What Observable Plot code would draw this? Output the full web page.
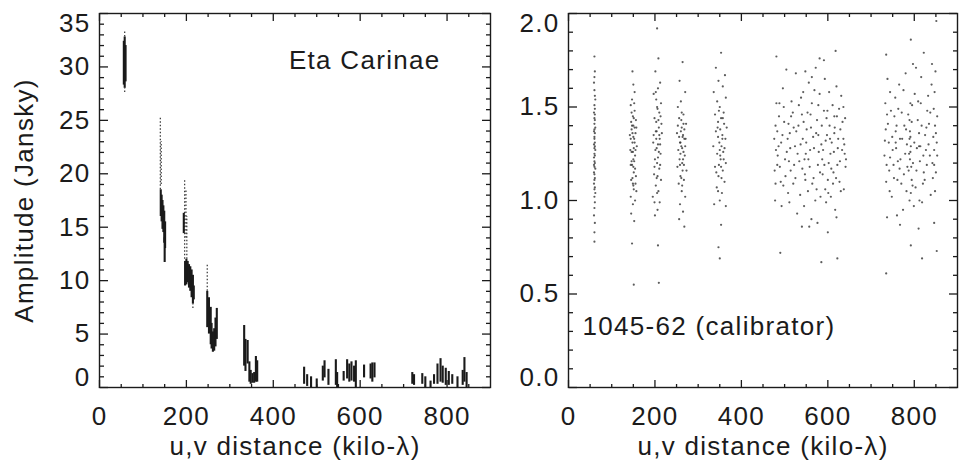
<!DOCTYPE html>
<html>
<head>
<meta charset="utf-8">
<script src="https://cdn.jsdelivr.net/npm/d3@7"></script>
<script src="https://cdn.jsdelivr.net/npm/@observablehq/plot@0.6"></script>
<style>
  html, body { margin: 0; padding: 0; background: #fff; }
  #wrap { display: flex; flex-direction: row; width: 959px; height: 463px; }
  #wrap svg { display: block; }
</style>
</head>
<body>
<div id="wrap"></div>
<script>
// ---------- data ----------
// Left panel (Eta Carinae): dense visibility streaks [u,v distance, amp low, amp high]
const etaStreaks = [
  [56,28.3,32.4],[58,28.0,32.8],[60,28.6,32.0],
  [141,16.0,18.5],[143,15.5,18.0],[145,14.8,17.5],[147,14.5,17.0],[149,13.5,16.5],[151,13.0,15.5],[150,11.7,14.0],
  [194,14.4,16.3],[197,9.5,11.8],[200,9.6,12.0],[203,9.8,11.8],[206,9.3,11.5],[209,9.0,11.3],[212,8.4,11.0],[215,7.8,10.5],[217,8.2,9.5],
  [248,5.6,9.0],[252,5.0,8.4],[256,4.0,7.5],[258,3.6,6.0],[261,3.3,5.2],[264,3.4,5.5],[267,3.8,6.5],[270,4.5,7.4],
  [333,2.0,5.8],[336,1.5,4.5],[341,2.2,4.4],[345,0.5,2.4],[348,0.3,1.6],[352,0.4,1.3],[356,0.4,1.4],[360,0.5,2.9],[363,0.5,2.5],
  [471,0.3,1.9],[478,0.1,1.2],[487,0.0,1.0],[500,0.0,0.8],[514,0.6,2.0],[518,0.9,2.5],[527,0.2,1.7],[544,0.2,2.6],[547,0.0,1.4],
  [562,0.6,1.5],[570,0.8,2.6],[575,0.5,2.2],[580,0.6,2.4],[586,0.5,2.0],[590,0.0,2.5],[609,0.9,2.1],[624,0.8,2.2],[628,0.5,2.3],[633,0.9,2.3],
  [720,0.3,1.4],[724,0.2,1.2],[743,0.3,1.3],[750,0.0,1.0],[762,0.0,0.6],[770,0.3,1.2],[778,0.3,2.2],[785,0.5,2.7],[790,0.4,2.0],
  [797,0.2,1.8],[804,0.2,1.5],[812,0.3,1.2],[824,0.0,1.0],[836,0.2,1.6],[840,0.5,2.8],[845,0.0,1.4]
];
// Left panel: sparse (speckled) parts of the streaks
const etaSparse = [
  [58,32.8,33.4],[58,27.6,28.0],[140,18.5,25.3],[142,19.0,23.0],[196,12.0,19.4],[199,14.0,18.5],[201,12.0,16.0],[248,9.0,11.6],[215,7.4,7.8]
];

// Right panel (1045-62 calibrator): individual visibilities [u,v distance, amplitude]
const calBandA = [[60,1.77],[61,1.69],[59,1.63],[60,1.59],[62,1.54],[60,1.51],[61,1.49],[59,1.47],[60,1.44],[61,1.43],[60,1.41],[62,1.39],[59,1.37],[61,1.36],[60,1.34],[60,1.33],[61,1.31],[59,1.30],[60,1.28],[62,1.27],[60,1.25],[61,1.24],[59,1.23],[60,1.21],[61,1.20],[60,1.18],[62,1.17],[59,1.15],[60,1.14],[61,1.12],[60,1.11],[59,1.09],[61,1.07],[60,1.06],[62,1.04],[60,1.02],[61,0.99],[60,0.96],[59,0.92],[61,0.88],[60,0.83],[60,0.78],[61,1.56],[60,1.66],[61,1.46],[60,1.38],[59,1.19],[61,1.29]];
const calBandB = [[148,1.69],[153,1.58],[144,1.51],[156,1.43],[150,1.62],[146,1.38],[152,1.33],[158,1.29],[143,1.27],[149,1.45],[154,1.24],[147,1.19],[151,1.15],[145,1.11],[155,1.36],[150,1.08],[157,1.05],[148,1.31],[152,1.21],[144,1.02],[153,1.48],[146,1.26],[150,1.40],[156,1.13],[149,0.98],[142,1.35],[154,1.17],[147,1.54],[151,1.28],[145,0.93],[155,1.09],[150,1.22],[148,1.12],[153,1.31],[146,1.47],[152,0.89],[144,1.19],[157,1.39],[149,1.26],[151,1.06],[147,0.77],[151,0.55],[150,1.34],[145,1.42],[154,1.00],
  [146,1.21],[150,1.18],[153,1.39],[148,1.36],[151,1.44],[155,1.27],[144,1.33],[149,1.09],[152,1.52],[147,1.40]];
const calBandC = [[205,1.92],[208,1.76],[201,1.69],[212,1.63],[197,1.57],[207,1.60],[214,1.52],[203,1.54],[210,1.47],[199,1.44],[206,1.49],[215,1.41],[202,1.37],[209,1.39],[196,1.31],[211,1.33],[204,1.28],[213,1.25],[200,1.22],[207,1.30],[210,1.17],[198,1.14],[205,1.20],[214,1.11],[202,1.08],[208,1.05],[195,1.02],[211,0.99],[204,1.12],[206,0.95],[200,0.92],[213,1.45],[203,1.42],[209,1.26],[197,1.35],[212,1.19],[205,1.04],[201,1.27],[216,1.36],[207,0.76],[209,0.56],[199,0.99],
  [203,1.33],[207,1.23],[210,1.35],[205,1.50],[199,1.18],[212,1.30],[206,1.13],[202,1.58],[208,1.43],[204,1.37]];
const calBandD = [[264,1.74],[257,1.64],[270,1.58],[253,1.50],[266,1.46],[260,1.53],[272,1.41],[256,1.44],[268,1.38],[251,1.36],[262,1.39],[271,1.33],[258,1.31],[265,1.35],[254,1.27],[261,1.29],[269,1.24],[257,1.22],[266,1.26],[252,1.18],[263,1.20],[273,1.16],[259,1.13],[267,1.11],[255,1.09],[262,1.05],[270,1.02],[258,0.98],[265,0.94],[256,0.90],[268,0.86],[261,1.43],[264,1.34],[267,1.19],[259,1.25],[253,1.40],[270,1.29],[263,1.08],[256,1.34],
  [260,1.37],[263,1.28],[266,1.41],[258,1.19],[262,1.47],[265,1.22],[259,1.31],[264,1.16],[268,1.33],[261,1.12]];
const calBandE = [[353,1.79],[341,1.71],[362,1.67],[347,1.64],[336,1.58],[357,1.61],[344,1.53],[364,1.55],[350,1.50],[339,1.46],[359,1.47],[346,1.42],[353,1.44],[366,1.39],[341,1.37],[356,1.35],[349,1.31],[335,1.29],[361,1.28],[344,1.25],[352,1.22],[364,1.20],[339,1.18],[357,1.16],[347,1.13],[361,1.10],[343,1.07],[355,1.04],[350,1.00],[337,0.98],[364,0.97],[346,1.34],[358,1.26],[351,1.38],[342,1.15],[360,1.41],[348,1.19],[354,1.29],[353,0.87],[347,0.75],[350,0.69],[363,1.33],
  [350,1.27],[356,1.33],[345,1.39],[353,1.18],[359,1.22],[348,1.48],[354,1.12],[351,1.24],[357,1.44],[346,1.05]];
const calGroupF = [[481,1.52],[534,1.21],[597,1.44],[612,1.09],[556,1.63],[489,1.18],[578,1.35],[633,1.27],[519,1.47],[545,0.97],[603,1.58],[492,1.31],[567,1.12],[626,1.49],[508,1.04],[551,1.38],[587,1.22],[479,1.09],[615,1.36],[538,1.55],[572,1.71],[499,1.42],[641,1.18],[524,1.29],[583,1.02],[606,1.25],[476,1.33],[559,1.27],[529,0.93],[620,1.61],[496,1.60],[547,1.14],[591,1.48],[637,1.06],[514,1.16],[575,1.43],[600,1.11],[484,1.24],[563,1.52],[542,1.33],[629,1.38],[505,1.26],[581,1.57],[516,1.53],[609,1.31],[554,1.05],[487,1.45],[596,0.99],[532,1.40],[622,1.19],[571,1.00],[502,1.13],[640,1.44],[548,1.69],[478,1.00],[585,1.30],[512,1.36],[617,0.95],[566,1.34],[493,0.97],[604,1.40],[540,1.46],[631,1.56],[520,1.09],[577,1.19],[483,1.37],[558,1.18],[593,1.65],[510,1.21],[636,1.33],[549,1.25],[611,1.51],[527,1.37],[569,1.59],[498,1.50],[588,1.14],[623,1.28],[536,1.03],[480,1.27],[602,1.20],[543,1.58],[562,0.90],[515,1.45],[627,1.10],[579,1.26],[491,1.10],[615,1.45],[553,1.47],[522,1.19],[598,1.35],[507,1.33],[574,1.06],[639,1.25],[533,1.51],[486,1.29],[607,1.02],[546,1.22],[591,1.75],[618,1.80],[504,1.70],[481,1.77],[526,1.68],[563,1.66],[581,1.76],[613,1.15],[540,0.86],[576,0.88],[600,0.83],[620,0.91],[557,0.86],[479,1.40],[636,1.50],[511,0.99],[585,0.67],[622,0.69],[490,0.72],[548,1.11],[561,1.39],[594,1.06],
  [483,1.19],[495,1.35],[501,1.22],[509,1.41],[513,1.28],[521,1.39],[525,1.12],[530,1.25],[537,1.30],[541,1.17],[544,1.42],[550,1.31],[555,1.22],[560,1.46],[564,1.09],[568,1.28],[573,1.36],[578,1.51],[582,1.15],[586,1.40],[589,1.27],[592,1.19],[595,1.32],[599,1.48],[601,1.04],[605,1.33],[608,1.17],[614,1.26],[616,1.39],[619,1.12],[621,1.45],[624,1.33],[628,1.21],[630,1.05],[634,1.42],[638,1.30],[642,1.22],[477,1.16],[488,1.52],[497,1.08]];
const calGroupG = [[737,1.46],[792,1.29],[846,1.19],[761,1.11],[815,1.52],[749,1.34],[803,1.07],[834,1.41],[775,1.59],[731,1.24],[789,1.43],[852,1.31],[768,1.22],[822,1.15],[744,1.58],[797,1.20],[840,1.62],[757,1.37],[811,1.36],[782,1.05],[735,1.10],[827,1.27],[763,1.49],[848,1.05],[795,1.51],[741,1.31],[818,0.99],[772,1.33],[853,1.45],[787,1.16],[752,1.19],[830,1.48],[806,1.28],[734,1.38],[779,1.25],[843,1.12],[765,1.62],[799,0.97],[825,1.35],[748,1.02],[790,1.37],[836,1.24],[758,1.28],[813,1.21],[786,1.46],[742,1.16],[850,1.36],[770,1.09],[808,1.43],[733,1.52],[794,1.11],[845,1.49],[777,1.40],[820,1.09],[754,1.45],[801,1.57],[838,1.03],[766,1.17],[832,1.56],[789,1.00],[738,1.65],[816,1.66],[774,0.95],[849,1.69],[760,0.92],[797,1.73],[744,1.23],[829,1.19],[783,1.30],[812,1.00],[792,1.86],[822,1.79],[804,1.71],[851,1.96],[735,1.78],[756,1.55],[780,1.68],[841,1.73],[767,0.87],[810,0.85],[846,0.88],[735,0.61],[792,0.76],[818,0.69],[852,0.73],[737,0.91],[791,1.34],[793,1.18],[790,1.22],[846,1.27],[848,1.40],[757,1.31],[811,1.29],
  [732,1.32],[736,1.19],[739,1.41],[743,1.05],[746,1.48],[750,1.27],[753,1.12],[759,1.40],[762,1.21],[767,1.33],[771,1.47],[776,1.14],[781,1.38],[784,1.18],[788,1.25],[791,1.52],[794,1.42],[796,1.08],[800,1.31],[805,1.16],[809,1.53],[814,1.29],[817,1.40],[821,1.24],[824,1.11],[828,1.39],[833,1.30],[837,1.47],[842,1.20],[844,1.34],[847,1.58],[850,1.15],[853,1.24],[791,1.26],[789,1.33],[792,1.04]];

// Axis ticks and labels
const xMajor = [0, 200, 400, 600, 800];
const xMinor = [50,100,150,250,300,350,450,500,550,650,700,750,850];
const etaYMajor = [0, 5, 10, 15, 20, 25, 30, 35];
const etaYMinor = [1,2,3,4,6,7,8,9,11,12,13,14,16,17,18,19,21,22,23,24,26,27,28,29,31,32,33,34];
const calYMajor = [0.0, 0.5, 1.0, 1.5, 2.0];
const calYMinor = [0.1,0.2,0.3,0.4,0.6,0.7,0.8,0.9,1.1,1.2,1.3,1.4,1.6,1.7,1.8,1.9];
const xTitle = "u,v distance (kilo-λ)";
const etaYTitle = "Amplitude (Jansky)";
const etaName = "Eta Carinae";
const calName = "1045-62 (calibrator)";

// ---------- helpers ----------
const INK = "#1b1b1b";
const FONT = {fontFamily: "'Liberation Sans', Arial, Helvetica, sans-serif", fontSize: "26px", letterSpacing: "1.3px", color: INK, background: "#fff"};

// inward ticks: each tick points away from the opposite side while anchored on this side
function frameTicks(yMajor, yMinor) {
  const st = {stroke: INK, strokeWidth: 1.3, fill: "none", label: null};
  return [
    Plot.axisX({ticks: xMajor, anchor: "top", frameAnchor: "bottom", tickSize: 8, ...st}),
    Plot.axisX({ticks: xMinor, anchor: "top", frameAnchor: "bottom", tickSize: 4, ...st}),
    Plot.axisX({ticks: xMajor, anchor: "bottom", frameAnchor: "top", tickSize: 8, ...st}),
    Plot.axisX({ticks: xMinor, anchor: "bottom", frameAnchor: "top", tickSize: 4, ...st}),
    Plot.axisY({ticks: yMajor, anchor: "right", frameAnchor: "left", tickSize: 8, ...st}),
    Plot.axisY({ticks: yMinor, anchor: "right", frameAnchor: "left", tickSize: 4, ...st}),
    Plot.axisY({ticks: yMajor, anchor: "left", frameAnchor: "right", tickSize: 8, ...st}),
    Plot.axisY({ticks: yMinor, anchor: "left", frameAnchor: "right", tickSize: 4, ...st}),
    Plot.axisX({ticks: xMajor, anchor: "bottom", tickSize: 0, tickPadding: 19, fill: INK, label: null, tickFormat: d3.format("d")}),
    Plot.text([xTitle], {frameAnchor: "bottom", textAnchor: "middle", dy: 59, lineAnchor: "middle", fill: INK})
  ];
}

function yLabels(yMajor, fmt) {
  const lo = yMajor[0], hi = yMajor[yMajor.length - 1];
  const mid = yMajor.filter(v => v !== lo && v !== hi);
  const common = {anchor: "left", tickSize: 0, tickPadding: 9, fill: INK, label: null, tickFormat: fmt};
  return [
    Plot.axisY({ticks: mid, ...common}),
    Plot.axisY({ticks: [lo], dy: -10, ...common}),
    Plot.axisY({ticks: [hi], dy: 10, ...common})
  ];
}

const toSeg = ([x, lo, hi]) => ({x, lo, hi});
const toPt = ([x, y]) => ({x, y});

// ---------- left panel ----------
const left = Plot.plot({
  width: 495, height: 463,
  marginLeft: 99, marginRight: 5, marginTop: 13, marginBottom: 76,
  style: FONT,
  x: {domain: [0, 900], label: null},
  y: {domain: [0, 35], label: null},
  marks: [
    Plot.ruleX(etaSparse.map(toSeg), {x: "x", y1: "lo", y2: "hi", stroke: "#333", strokeWidth: 1.2, strokeDasharray: "1.5,2"}),
    Plot.ruleX(etaStreaks.map(toSeg), {x: "x", y1: "lo", y2: "hi", stroke: "#1a1a1a", strokeWidth: 2.1}),
    Plot.frame({stroke: INK, strokeWidth: 1.4}),
    ...frameTicks(etaYMajor, etaYMinor),
    ...yLabels(etaYMajor, d3.format("d")),
    Plot.text([etaYTitle], {frameAnchor: "left", textAnchor: "middle", rotate: -90, dx: -75, lineAnchor: "middle", fill: INK}),
    Plot.text([etaName], {frameAnchor: "top-right", textAnchor: "end", lineAnchor: "top", dx: -50, dy: 37, fill: INK})
  ]
});

// ---------- right panel ----------
const calAll = [...calBandA, ...calBandB, ...calBandC, ...calBandD, ...calBandE, ...calGroupF, ...calGroupG].map(toPt);
const right = Plot.plot({
  width: 464, height: 463,
  marginLeft: 73, marginRight: 2, marginTop: 13, marginBottom: 76,
  style: FONT,
  x: {domain: [0, 900], label: null},
  y: {domain: [0, 2], label: null},
  marks: [
    Plot.dot(calAll, {x: "x", y: "y", r: 1.1, fill: "#333", fillOpacity: 0.8, stroke: "none"}),
    Plot.frame({stroke: INK, strokeWidth: 1.4}),
    ...frameTicks(calYMajor, calYMinor),
    ...yLabels(calYMajor, d3.format(".1f")),
    Plot.text([calName], {frameAnchor: "bottom-left", textAnchor: "start", lineAnchor: "middle", dx: 14, dy: -61, fill: INK})
  ]
});

document.getElementById("wrap").append(left, right);
</script>
</body>
</html>
